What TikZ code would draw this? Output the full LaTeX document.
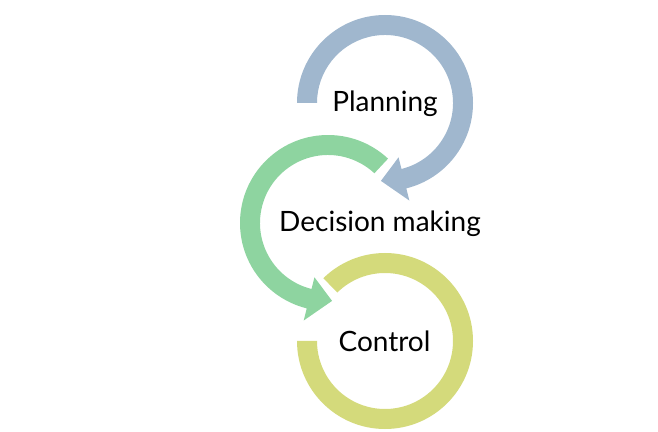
\documentclass[tikz,border=0pt]{standalone}
\usetikzlibrary{calc}
\usepackage{fontspec}
\setmainfont{Lato}
\definecolor{cblue}{HTML}{A0B7CE}
\definecolor{cgreen}{HTML}{8ED4A0}
\definecolor{cyellow}{HTML}{D4DA7B}
\begin{document}
\begin{tikzpicture}[x=1pt,y=1pt,
  lbl/.style={font=\fontsize{28}{31}\selectfont, inner sep=0pt, anchor=base, text=black}]
\useasboundingbox (0,0) rectangle (658,431);
% Planning (blue)
\coordinate (cb) at (385,328);
\fill[cblue] ($(cb)+(180:88)$) arc[start angle=180,end angle=-76,radius=88]
  -- ($(cb)+(-76:100.5)$) -- ($(cb)+(-93:78)$) -- ($(cb)+(-76:56)$)
  -- ($(cb)+(-76:68)$) arc[start angle=-76,end angle=180,radius=68] -- cycle;
% Decision making (green)
\coordinate (cg) at (328,208);
\fill[cgreen] ($(cg)+(47:88)$) arc[start angle=47,end angle=256,radius=88]
  -- ($(cg)+(256:100.5)$) -- ($(cg)+(273:78)$) -- ($(cg)+(256:56)$)
  -- ($(cg)+(256:68)$) arc[start angle=256,end angle=47,radius=68] -- cycle;
% Control (yellow)
\coordinate (cy) at (385,90);
\fill[cyellow] ($(cy)+(180:88)$) arc[start angle=180,end angle=494.5,radius=88]
  -- ($(cy)+(494.5:68)$) arc[start angle=494.5,end angle=180,radius=68] -- cycle;
\node[lbl] (p) at (385,319) {Planning};
\node[lbl] (d) at (380,199) {Decision making};
\node[lbl] (c) at (384.5,79) {Control};
\end{tikzpicture}
\end{document}
